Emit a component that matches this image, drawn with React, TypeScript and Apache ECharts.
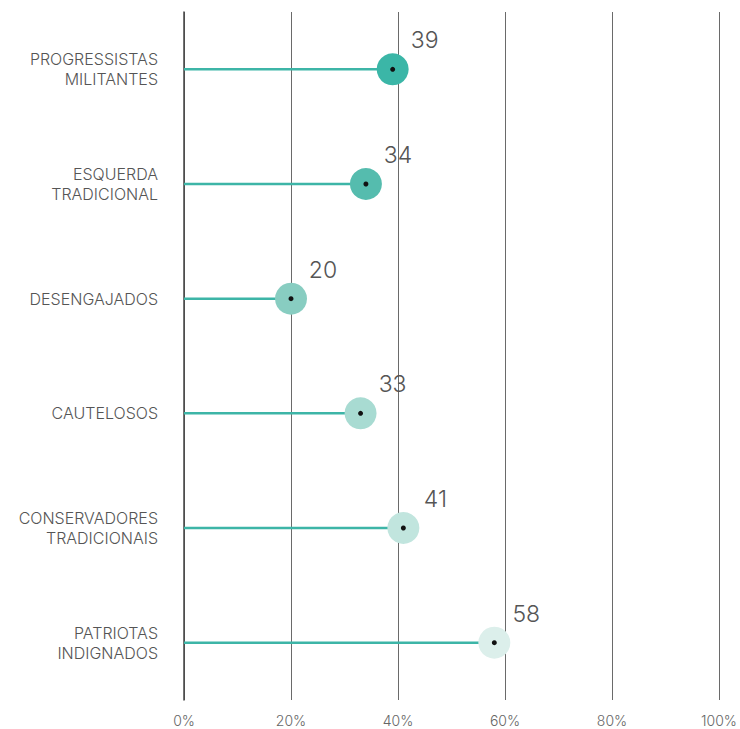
import React, { useEffect, useRef } from "react";
import * as echarts from "echarts";

const categories = [
  "PROGRESSISTAS\nMILITANTES",
  "ESQUERDA\nTRADICIONAL",
  "DESENGAJADOS",
  "CAUTELOSOS",
  "CONSERVADORES\nTRADICIONAIS",
  "PATRIOTAS\nINDIGNADOS",
];
const values = [39, 34, 20, 33, 41, 58];
const dotColors = ["#3bb6a7", "#55bcae", "#88cdc1", "#a8dbd2", "#c1e5de", "#dcefeb"];
const xTicks = [0, 20, 40, 60, 80, 100];

export default function App() {
  const ref = useRef<HTMLDivElement>(null);
  useEffect(() => {
    const chart = echarts.init(ref.current!, null, { renderer: "svg" });
    const font = "Inter, 'Noto Sans', sans-serif";
    chart.setOption({
      animation: false,
      grid: { left: 184, right: 18, top: 12, bottom: 29 },
      xAxis: {
        type: "value",
        min: xTicks[0],
        max: xTicks[xTicks.length - 1],
        interval: 20,
        axisLine: { show: false },
        axisTick: { show: false },
        splitLine: { show: true, lineStyle: { color: "#6a6a6a", width: 1 } },
        axisLabel: {
          formatter: (v: number) => v + "%",
          color: "#666",
          fontSize: 14,
          fontWeight: 300,
          fontFamily: font,
          margin: 13,
        },
      },
      yAxis: {
        type: "category",
        data: categories,
        inverse: true,
        axisLine: { show: true, lineStyle: { color: "#444", width: 1.5 } },
        axisTick: { show: false },
        axisLabel: {
          color: "#555",
          fontSize: 16,
          fontWeight: 300,
          lineHeight: 20,
          fontFamily: font,
          margin: 26,
          align: "right",
        },
      },
      series: [
        {
          type: "bar",
          data: values,
          barWidth: 2.5,
          itemStyle: { color: "#3db5a7" },
          z: 2,
        },
        {
          type: "scatter",
          data: values.map((v, i) => ({ value: [v, i], itemStyle: { color: dotColors[i], opacity: 1 } })),
          symbolSize: 32,
          itemStyle: { opacity: 1 },
          z: 3,
          label: {
            show: true,
            position: "inside",
            offset: [32, -29],
            formatter: (p: any) => String(p.value[0]),
            color: "#555",
            fontSize: 23,
            fontWeight: 300,
            fontFamily: font,
          },
        },
        {
          type: "scatter",
          data: values.map((v, i) => [v, i]),
          symbolSize: 5,
          itemStyle: { color: "#111", opacity: 1 },
          z: 4,
        },
      ],
    });
    return () => chart.dispose();
  }, []);
  return <div ref={ref} style={{ width: 740, height: 729, position: "absolute", left: 0, top: 0 }} />;
}
